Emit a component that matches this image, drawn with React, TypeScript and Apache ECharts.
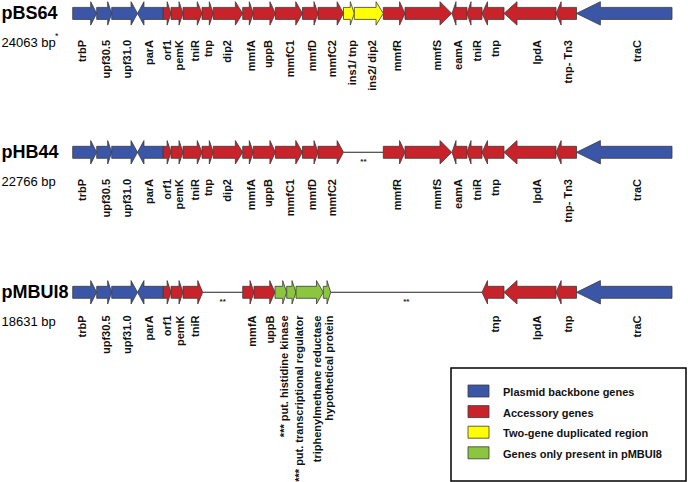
import React, { useEffect, useRef } from "react";
import * as echarts from "echarts";

const FONT = "'Liberation Sans', Arial, Helvetica, sans-serif";

const plasmidNames = ["pBS64", "pHB44", "pMBUI8"];
const plasmidSizes = ["24063 bp", "22766 bp", "18631 bp"];
const sizeNotes = ["*", "", ""];

const categories = [
  "Plasmid backbone genes",
  "Accessory genes",
  "Two-gene duplicated region",
  "Genes only present in pMBUI8",
];
const categoryColors = ["#3b56a6", "#c8232b", "#ffff00", "#8cc63e"];

// [gene, start, end, strand (1 forward / -1 reverse), category index, label position] in map units
type Gene = [string, number, number, number, number, number];

const pBS64Genes: Gene[] = [
  ["trbP", 72.7, 96.7, 1, 0, 81.7],
  ["upf30.5", 96.7, 111.7, 1, 0, 106],
  ["upf31.0", 111.7, 137.5, 1, 0, 126.7],
  ["parA", 137.5, 163.3, -1, 0, 149.3],
  ["orf1", 163.3, 171, 1, 1, 166.7],
  ["pemK", 171, 183, 1, 1, 179],
  ["tniR", 183, 202, 1, 1, 195],
  ["tnp", 202, 213.3, 1, 1, 208.3],
  ["dip2", 213.3, 242.7, 1, 1, 226.7],
  ["mmfA", 242.7, 253.3, 1, 1, 250.7],
  ["uppB", 253.3, 275.5, 1, 1, 268.3],
  ["mmfC1", 275.5, 302.5, 1, 1, 290],
  ["mmfD", 302.5, 318, 1, 1, 311.7],
  ["mmfC2", 318, 343.5, 1, 1, 331.7],
  ["ins1/ tnp", 343.5, 354.3, 1, 2, 351.7],
  ["ins2/ dip2", 354.3, 383.3, 1, 2, 371.7],
  ["mmfR", 383.3, 405, 1, 1, 397.3],
  ["mmfS", 405, 451.7, 1, 1, 436.7],
  ["eamA", 452, 467, -1, 1, 458.3],
  ["tniR", 467, 482, -1, 1, 476.7],
  ["tnp", 482, 504, -1, 1, 495],
  ["lpdA", 504, 556, -1, 1, 536.7],
  ["tnp- Tn3", 556, 576.5, -1, 1, 568.3],
  ["traC", 576.5, 672, -1, 0, 636.7],
];

const pHB44Genes: Gene[] = [
  ["trbP", 72.7, 96.7, 1, 0, 81.7],
  ["upf30.5", 96.7, 111.7, 1, 0, 106],
  ["upf31.0", 111.7, 137.5, 1, 0, 126.7],
  ["parA", 137.5, 163.3, -1, 0, 149.3],
  ["orf1", 163.3, 171, 1, 1, 166.7],
  ["pemK", 171, 183, 1, 1, 179],
  ["tniR", 183, 202, 1, 1, 195],
  ["tnp", 202, 213.3, 1, 1, 208.3],
  ["dip2", 213.3, 242.7, 1, 1, 226.7],
  ["mmfA", 242.7, 253.3, 1, 1, 250.7],
  ["uppB", 253.3, 275.5, 1, 1, 268.3],
  ["mmfC1", 275.5, 302.5, 1, 1, 290],
  ["mmfD", 302.5, 318, 1, 1, 311.7],
  ["mmfC2", 318, 343.5, 1, 1, 331.7],
  ["mmfR", 383.3, 405, 1, 1, 397.3],
  ["mmfS", 405, 451.7, 1, 1, 436.7],
  ["eamA", 452, 467, -1, 1, 458.3],
  ["tniR", 467, 482, -1, 1, 476.7],
  ["tnp", 482, 504, -1, 1, 495],
  ["lpdA", 504, 556, -1, 1, 536.7],
  ["tnp- Tn3", 556, 576.5, -1, 1, 568.3],
  ["traC", 576.5, 672, -1, 0, 636.7],
];

const pMBUI8Genes: Gene[] = [
  ["trbP", 72.7, 96.7, 1, 0, 81.7],
  ["upf30.5", 96.7, 111.7, 1, 0, 106],
  ["upf31.0", 111.7, 137.5, 1, 0, 126.7],
  ["parA", 137.5, 163.3, -1, 0, 149.3],
  ["orf1", 163.3, 171, 1, 1, 166.7],
  ["pemK", 171, 183, 1, 1, 179.5],
  ["tniR", 183, 202.7, 1, 1, 195],
  ["mmfA", 242.7, 254, 1, 1, 252],
  ["uppB", 254, 275, 1, 1, 269.5],
  ["*** put. histidine kinase", 275, 286.7, 1, 3, 284.2],
  ["*** put. transcriptional regulator", 286.7, 296, 1, 3, 298.5],
  ["triphenylmethane reductase", 296, 323.3, 1, 3, 316.7],
  ["hypothetical protein", 323.3, 330.7, 1, 3, 329.3],
  ["tnp", 482, 504, -1, 1, 495],
  ["lpdA", 504, 556, -1, 1, 536.7],
  ["tnp", 556, 576.5, -1, 1, 568.3],
  ["traC", 576.5, 672, -1, 0, 637],
];

const plasmidGenes = [pBS64Genes, pHB44Genes, pMBUI8Genes];

// deleted regions: [plasmid row, start, end]
const gaps: [number, number, number][] = [
  [1, 343.5, 383.3],
  [2, 202.7, 242.7],
  [2, 330.7, 482],
];

// layout (pixel-space rows)
const ROW_Y = [13.4, 152.3, 292.3];
const LABEL_TOP = [40, 179, 315.5];
const BODY_HALF = 6;
const HEAD_HALF = 11.7;

// legend box layout
const LEG_X = 451;
const LEG_Y = 368;
const LEG_W = 235;
const LEG_H = 113;

export default function App() {
  const ref = useRef<HTMLDivElement>(null);

  useEffect(() => {
    if (!ref.current) return;
    const chart = echarts.init(ref.current, null, { renderer: "svg" });

    const allGenes = plasmidGenes.flatMap((genes, row) =>
      genes.map((g) => ({
        row,
        name: g[0],
        start: g[1],
        end: g[2],
        strand: g[3],
        cat: g[4],
        labelAt: g[5],
      }))
    );

    const geneSeries = categories.map((cat, ci) => {
      const items = allGenes.filter((g) => g.cat === ci);
      return {
        type: "custom",
        name: cat,
        coordinateSystem: "cartesian2d",
        clip: false,
        z: 3,
        itemStyle: { color: categoryColors[ci] },
        data: items.map((g) => [g.start, ROW_Y[g.row], g.end, g.strand, g.labelAt, LABEL_TOP[g.row]]),
        encode: { x: [0, 2, 4], y: [1, 5] },
        renderItem: (params: any, api: any) => {
          const g = items[params.dataIndex];
          const p0 = api.coord([api.value(0), api.value(1)]);
          const p1 = api.coord([api.value(2), api.value(1)]);
          const pl = api.coord([api.value(4), api.value(5)]);
          const x0 = p0[0];
          const x1 = p1[0];
          const cy = p0[1];
          const len = x1 - x0;
          const head = Math.min(len * 0.5, Math.max(4, len * 0.25));
          let pts: number[][];
          if (api.value(3) > 0) {
            pts = [
              [x0, cy - BODY_HALF],
              [x1 - head, cy - BODY_HALF],
              [x1 - head, cy - HEAD_HALF],
              [x1, cy],
              [x1 - head, cy + HEAD_HALF],
              [x1 - head, cy + BODY_HALF],
              [x0, cy + BODY_HALF],
            ];
          } else {
            pts = [
              [x1, cy - BODY_HALF],
              [x0 + head, cy - BODY_HALF],
              [x0 + head, cy - HEAD_HALF],
              [x0, cy],
              [x0 + head, cy + HEAD_HALF],
              [x0 + head, cy + BODY_HALF],
              [x1, cy + BODY_HALF],
            ];
          }
          return {
            type: "group",
            children: [
              {
                type: "polygon",
                shape: { points: pts },
                style: {
                  fill: categoryColors[ci],
                  stroke: "#3a3a3a",
                  lineWidth: 0.8,
                },
              },
              {
                type: "text",
                x: pl[0],
                y: pl[1],
                rotation: Math.PI / 2,
                style: {
                  text: g.name,
                  align: "right",
                  verticalAlign: "middle",
                  fill: "#111",
                  font: `bold 11px ${FONT}`,
                },
              },
            ],
          };
        },
      };
    });

    const gapSeries = {
      type: "custom",
      name: "gaps",
      coordinateSystem: "cartesian2d",
      clip: false,
      z: 2,
      data: gaps.map((g) => [g[1], ROW_Y[g[0]], g[2]]),
      encode: { x: [0, 2], y: 1 },
      renderItem: (params: any, api: any) => {
        const p0 = api.coord([api.value(0), api.value(1)]);
        const p1 = api.coord([api.value(2), api.value(1)]);
        return {
          type: "group",
          children: [
            {
              type: "line",
              shape: { x1: p0[0], y1: p0[1], x2: p1[0], y2: p1[1] },
              style: { stroke: "#222", lineWidth: 1.1 },
            },
            {
              type: "text",
              x: (p0[0] + p1[0]) / 2,
              y: p0[1] + 9.5,
              style: {
                text: "**",
                align: "center",
                verticalAlign: "middle",
                fill: "#222",
                font: `bold 8px ${FONT}`,
              },
            },
          ],
        };
      },
    };

    const nameSeries = {
      type: "custom",
      name: "plasmids",
      coordinateSystem: "cartesian2d",
      clip: false,
      z: 2,
      data: plasmidNames.map((_, i) => [0, ROW_Y[i]]),
      renderItem: (params: any, api: any) => {
        const i = params.dataIndex;
        const p = api.coord([api.value(0), api.value(1)]);
        const children: any[] = [
          {
            type: "text",
            x: p[0] + 1.5,
            y: p[1],
            style: {
              text: plasmidNames[i],
              align: "left",
              verticalAlign: "middle",
              fill: "#000",
              font: `bold 18px ${FONT}`,
            },
          },
          {
            type: "text",
            x: p[0] + 1.5,
            y: p[1] + 29.5,
            style: {
              text: plasmidSizes[i],
              align: "left",
              verticalAlign: "middle",
              fill: "#000",
              font: `13px ${FONT}`,
            },
          },
        ];
        if (sizeNotes[i]) {
          children.push({
            type: "text",
            x: p[0] + 55,
            y: p[1] + 23,
            style: {
              text: sizeNotes[i],
              align: "left",
              verticalAlign: "middle",
              fill: "#000",
              font: `9px ${FONT}`,
            },
          });
        }
        return { type: "group", children };
      },
    };

    const legendChildren: any[] = [
      {
        type: "rect",
        shape: { x: LEG_X, y: LEG_Y, width: LEG_W, height: LEG_H },
        style: { fill: "#fff", stroke: "#000", lineWidth: 1.5 },
      },
    ];
    categories.forEach((cat, i) => {
      const y = LEG_Y + 17 + i * 20.6;
      legendChildren.push({
        type: "rect",
        shape: { x: LEG_X + 17, y, width: 21, height: 12 },
        style: { fill: categoryColors[i], stroke: "#3a3a3a", lineWidth: 0.8 },
      });
      legendChildren.push({
        type: "text",
        x: LEG_X + 52,
        y: y + 7,
        style: {
          text: cat,
          align: "left",
          verticalAlign: "middle",
          fill: "#111",
          font: `bold 11px ${FONT}`,
        },
      });
    });

    chart.setOption({
      animation: false,
      backgroundColor: "#ffffff",
      grid: { left: 0, right: 0, top: 0, bottom: 0 },
      xAxis: { type: "value", min: 0, max: 688, show: false },
      yAxis: { type: "value", min: 0, max: 482, inverse: true, show: false },
      graphic: [{ type: "group", children: legendChildren }],
      series: [gapSeries, nameSeries, ...geneSeries],
    });

    return () => chart.dispose();
  }, []);

  return (
    <div
      ref={ref}
      style={{ position: "fixed", left: 0, top: 0, width: 688, height: 482 }}
    />
  );
}
